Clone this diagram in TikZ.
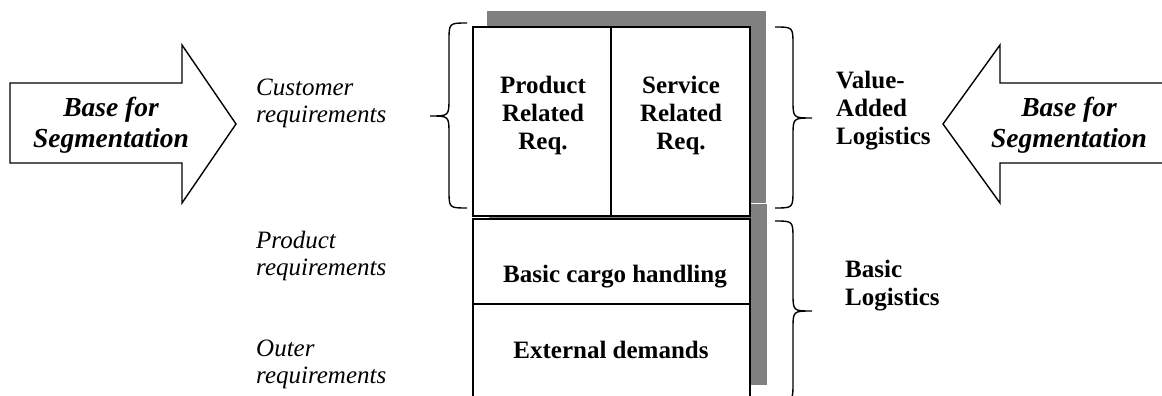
\documentclass[tikz,border=0pt]{standalone}
\usepackage{fontspec}
\setmainfont{Liberation Serif}
\definecolor{shadowgray}{RGB}{128,128,128}
\begin{document}
\begin{tikzpicture}[x=1pt,y=-1pt,
  panel/.style={draw=black,line width=2pt,fill=white},
  divider/.style={draw=black,line width=1.4pt},
  shadowfill/.style={fill=shadowgray,draw=none},
  bigarrow/.style={draw=black,line width=1.4pt,fill=white,line join=miter},
  bracepath/.style={draw=black,line width=1.4pt},
  arrowtext/.style={font=\fontsize{27.5}{31}\selectfont\bfseries\itshape,align=center,inner sep=0pt},
  sidetext/.style={font=\fontsize{25}{27}\selectfont\itshape,align=left,inner sep=0pt},
  celltext/.style={font=\fontsize{25}{28}\selectfont\bfseries,align=center,inner sep=0pt},
  grouptext/.style={font=\fontsize{25}{28}\selectfont\bfseries,align=left,inner sep=0pt}]
\clip (0,0) rectangle (1162,396);
\useasboundingbox (0,0) rectangle (1162,396);

% drop shadows behind the two panels
\path[shadowfill] (487,11) rectangle (766,203);
\path[shadowfill] (489,204) rectangle (767,385);

% upper panel: value-added requirements
\draw[panel] (473,27) rectangle (750,216);
\draw[divider] (611,27) -- (611,216);
% lower panel: basic requirements
\draw[panel] (473,219) rectangle (750,430);
\draw[divider] (473,304) -- (750,304);

% multi-line nodes are anchored at the baseline of their last line
\node[celltext,anchor=base] (prodreq) at (543,149) {Product\\Related\\Req.};
\node[celltext,anchor=base] (servreq) at (681,149) {Service\\Related\\Req.};
\node[celltext,anchor=base] (cargo) at (615,282) {Basic cargo handling};
\node[celltext,anchor=base] (extern) at (611,358) {External demands};

% block arrows
\draw[bigarrow] (10,83) -- (182,83) -- (182,45) -- (236,124) -- (182,203) -- (182,163) -- (10,163) -- cycle;
\draw[bigarrow] (1175,83) -- (1000,83) -- (1000,45) -- (943,124) -- (1000,203) -- (1000,163) -- (1175,163);
\node[arrowtext,anchor=base] (segleft) at (111,147) {Base for\\Segmentation};
\node[arrowtext,anchor=base] (segright) at (1069,147) {Base for\\Segmentation};

% requirement labels
\node[sidetext,anchor=base west] (custreq) at (256,122) {Customer\\requirements};
\node[sidetext,anchor=base west] (prodlab) at (256,275) {Product\\requirements};
\node[sidetext,anchor=base west] (outerlab) at (256,383) {Outer\\requirements};

% braces
\draw[bracepath] (467,23) .. controls (449,23) .. (449,41) -- (449,98)
  .. controls (449,116) .. (430,116) .. controls (449,116) .. (449,134)
  -- (449,190) .. controls (449,208) .. (467,208);
\draw[bracepath] (775,27) .. controls (793,27) .. (793,45) -- (793,100)
  .. controls (793,118) .. (812,118) .. controls (793,118) .. (793,136)
  -- (793,190) .. controls (793,208) .. (775,208);
\draw[bracepath] (775,221) .. controls (793,221) .. (793,239) -- (793,293)
  .. controls (793,311) .. (812,311) .. controls (793,311) .. (793,329)
  -- (793,383) .. controls (793,401) .. (775,401);

\node[grouptext,anchor=base west] (valadd) at (836,144) {Value-\\Added\\Logistics};
\node[grouptext,anchor=base west] (basiclog) at (845,305) {Basic\\Logistics};
\end{tikzpicture}
\end{document}
